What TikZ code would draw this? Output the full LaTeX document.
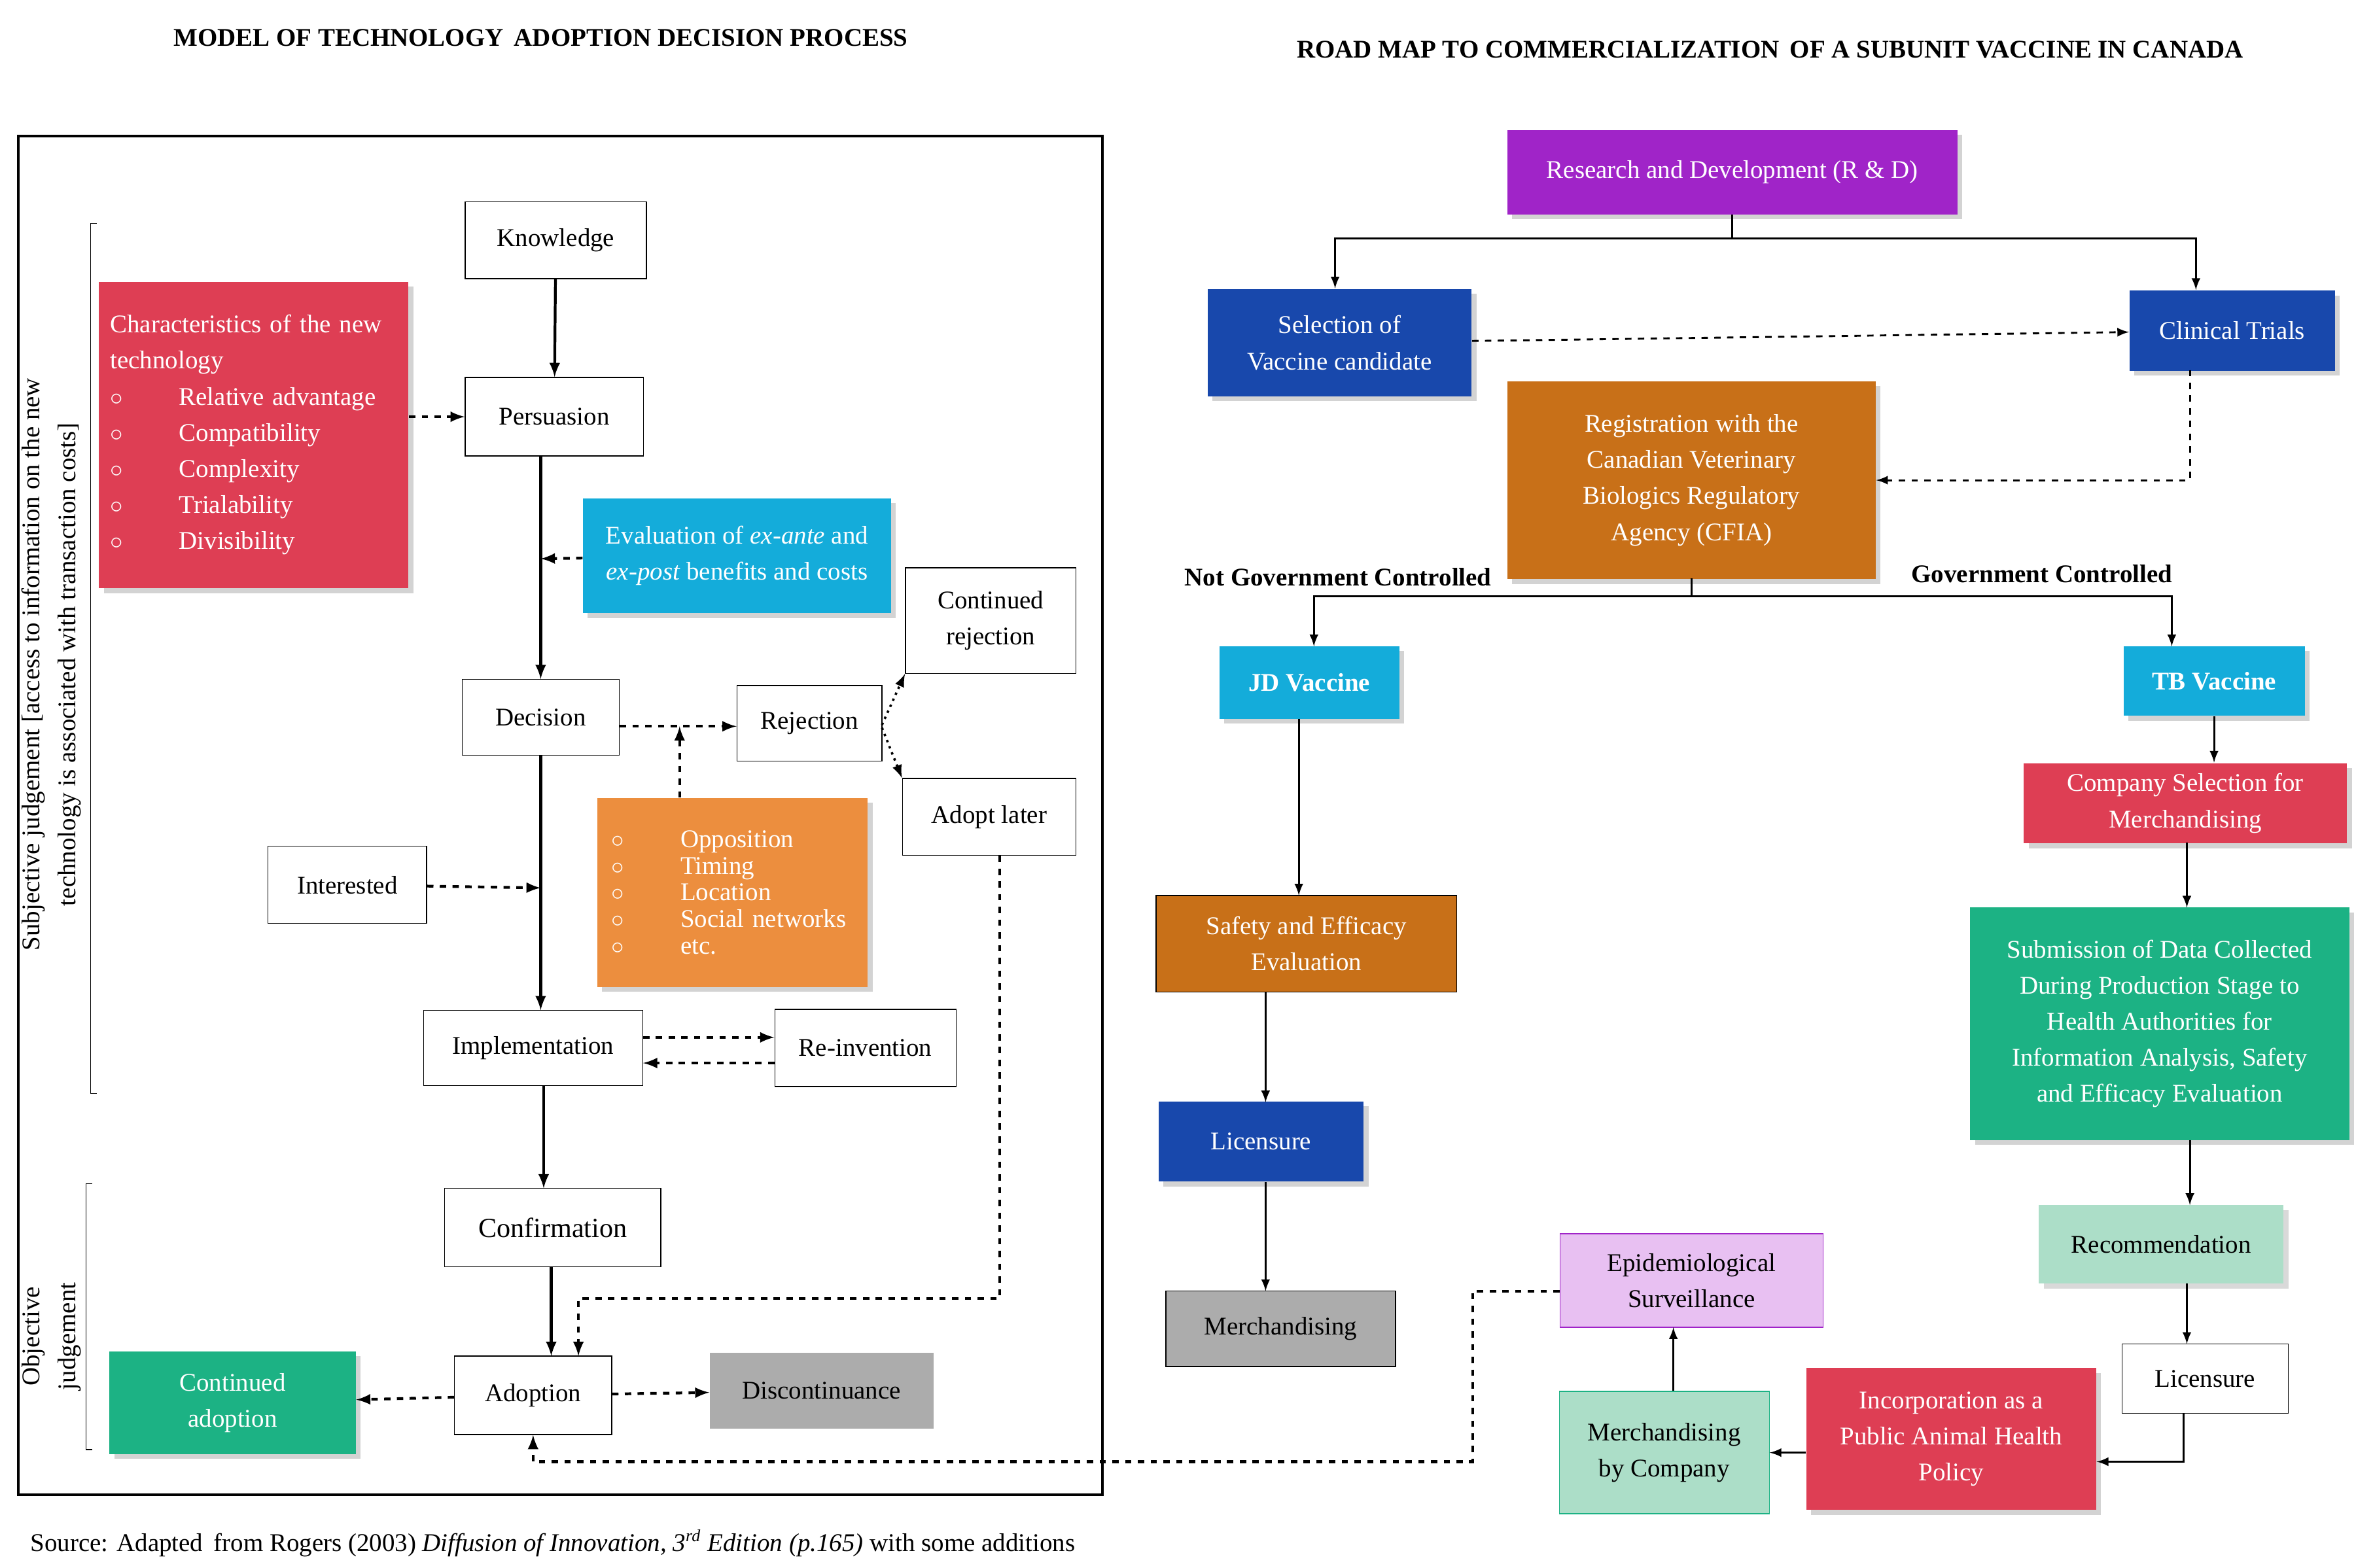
\documentclass[tikz,border=0pt]{standalone}
\usepackage{fontspec}
\setmainfont{Liberation Serif}
\usetikzlibrary{shadows}
\definecolor{cred}{RGB}{222,62,84}
\definecolor{ccyan}{RGB}{20,172,218}
\definecolor{corange}{RGB}{236,142,62}
\definecolor{cpurple}{RGB}{160,36,200}
\definecolor{cblue}{RGB}{24,72,172}
\definecolor{cbrown}{RGB}{200,112,24}
\definecolor{cgreen}{RGB}{28,178,132}
\definecolor{clgreen}{RGB}{172,222,200}
\definecolor{clpurple}{RGB}{232,192,242}
\definecolor{cgray}{RGB}{172,172,172}
\begin{document}
\begin{tikzpicture}[x=0.025cm,y=-0.025cm,>=latex,
  every node/.style={font=\fontsize{12}{17}\selectfont},
  bx/.style 2 args={draw=black,rectangle,align=center,minimum width=#1*0.025cm,minimum height=#2*0.025cm,inner sep=1pt},
  fl/.style={draw=none,drop shadow={opacity=0.35},text=white},
  sl/.style={->,line width=1.3pt},
  dl/.style={->,line width=1.3pt,dashed},
  dt/.style={->,line width=1.1pt,dotted},
  rl/.style={->,line width=0.9pt}]
%%
\useasboundingbox (0,0) rectangle (1560,1038);
\node at (358,25) {\textbf{MODEL OF TECHNOLOGY\, ADOPTION DECISION PROCESS}};
\node at (1172,33) {\textbf{ROAD MAP TO COMMERCIALIZATION\, OF A SUBUNIT VACCINE IN CANADA}};
\draw[line width=1.2pt] (12,90) rectangle (730,990);
% left side
\node (knowledge) at (368,159) [bx={120}{51}] {Knowledge};
\node (persuasion) at (367,276) [bx={118}{52}] {Persuasion};
\node (charac) at (168,288) [bx={205}{203},fl,fill=cred,align=left,text width=190*0.025cm] {Characteristics of the new\\technology\\
  $\circ$\hspace{2.2em}Relative advantage\\ $\circ$\hspace{2.2em}Compatibility\\ $\circ$\hspace{2.2em}Complexity\\
  $\circ$\hspace{2.2em}Trialability\\ $\circ$\hspace{2.2em}Divisibility};
\node (evaluation) at (488,368) [bx={204}{76},fl,fill=ccyan] {Evaluation of \textit{ex-ante} and\\\textit{ex-post} benefits and costs};
\node (cont_rej) at (656,411) [bx={113}{70}] {Continued\\rejection};
\node (decision) at (358,475) [bx={104}{50}] {Decision};
\node (rejection) at (536,479) [bx={96}{50}] {Rejection};
\node (adopt_later) at (655,541) [bx={115}{51}] {Adopt later};
\node (interested) at (230,586) [bx={105}{51}] {Interested};
\node (barriers) at (485,591) [bx={179}{125},fl,fill=corange,align=left,text width=160*0.025cm,font=\fontsize{12}{12.5}\selectfont] {$\circ$\hspace{2.2em}Opposition\\ $\circ$\hspace{2.2em}Timing\\ $\circ$\hspace{2.2em}Location\\
  $\circ$\hspace{2.2em}Social networks\\ $\circ$\hspace{2.2em}etc.};
\node (implementation) at (353,694) [bx={145}{50}] {Implementation};
\node (reinvention) at (573,694) [bx={120}{51}] {Re-invention};
\node (confirmation) at (366,813) [bx={143}{52}] {\fontsize{13}{15}\selectfont Confirmation};
\node (adoption) at (353,924) [bx={104}{52}] {Adoption};
\node (cont_adopt) at (154,929) [bx={163}{68},fl,fill=cgreen] {Continued\\adoption};
\node (discont) at (544,921) [bx={148}{50},draw=none,fill=cgray] {Discontinuance};
\draw (64,148) -- (60,148) -- (60,724) -- (64,724);
\node[rotate=90,align=center] (subj) at (34,440) {Subjective judgement [access to information on the new\\technology is associated with transaction costs]};
\draw (61,784) -- (57,784) -- (57,960) -- (61,960);
\node[rotate=90,align=center] (obj) at (34,885) {Objective\\judgement};
\node at (366,1022) {Source: Adapted\, from Rogers (2003) \textit{Diffusion of Innovation, 3\textsuperscript{rd} Edition (p.165)} with some additions};
% right side
\node (rnd) at (1147,114) [bx={298}{56},fl,fill=cpurple] {Research and Development (R \& D)};
\node (selection) at (887,227) [bx={175}{71},fl,fill=cblue] {Selection of\\Vaccine candidate};
\node (clinical) at (1478,219) [bx={136}{53},fl,fill=cblue] {Clinical Trials};
\node (registration) at (1120,318) [bx={244}{131},fl,fill=cbrown] {Registration with the\\Canadian Veterinary\\Biologics Regulatory\\Agency (CFIA)};
\node (notgov) at (886,382) {\textbf{Not Government Controlled}};
\node (gov) at (1352,380) {\textbf{Government Controlled}};
\node (jd) at (867,452) [bx={119}{48},fl,fill=ccyan] {\textbf{JD Vaccine}};
\node (tb) at (1466,451) [bx={120}{46},fl,fill=ccyan] {\textbf{TB Vaccine}};
\node (company) at (1447,532) [bx={214}{53},fl,fill=cred] {Company Selection for\\Merchandising};
\node (submission) at (1430,678) [bx={251}{154},fl,fill=cgreen] {Submission of Data Collected\\During Production Stage to\\Health Authorities for\\Information Analysis, Safety\\and Efficacy Evaluation};
\node (recommend) at (1431,824) [bx={162}{52},draw=none,fill=clgreen,drop shadow={opacity=0.3}] {Recommendation};
\node (lic_tb) at (1460,913) [bx={110}{46}] {Licensure};
\node (incorp) at (1292,953) [bx={192}{94},fl,fill=cred] {Incorporation as a\\Public Animal Health\\Policy};
\node (merch_co) at (1102,962) [bx={139}{81},draw=cgreen,fill=clgreen] {Merchandising\\by Company};
\node (epi) at (1120,848) [bx={174}{62},draw=cpurple,fill=clpurple] {Epidemiological\\Surveillance};
\node (safety) at (865,625) [bx={199}{64},fill=cbrown,text=white] {Safety and Efficacy\\Evaluation};
\node (lic_jd) at (835,756) [bx={136}{53},fl,fill=cblue] {Licensure};
\node (merch) at (848,880) [bx={152}{50},fill=cgray] {Merchandising};
%
\draw [sl] (knowledge) -- (persuasion);
\draw [sl] (358,302) -- (decision);
\draw [sl] (358,500) -- (358,669);
\draw [sl] (360,719) -- (360,787);
\draw [sl] (365,839) -- (365,898);
\draw [dl] (adopt_later.south -| 662,567) -- (662,860) -- (383,860) -- (383,898);
\draw [dl] (charac.east |- persuasion) -- (persuasion);
\draw [dl] (evaluation) -- (358,370);
\draw [dl] (decision.east |- 0,481) -- (rejection.west |- 0,481);
\draw [dl] (barriers.north -| 450,529) -- (450,481);
\draw [dt] (584,480) -- (cont_rej.south west);
\draw [dt] (584,482) -- (adopt_later.north west);
\draw [dl] (interested) -- (358,588);
\draw [dl] (implementation.east |- 0,687) -- (reinvention.west |- 0,687);
\draw [dl] (reinvention.west |- 0,704) -- (implementation.east |- 0,704);
\draw [dl] (adoption) -- (cont_adopt);
\draw [dl] (adoption) -- (discont);
\draw [rl,-] (rnd.south) -- (1147,158);
\draw [rl] (1147,158) -- (884,158) -- (884,191);
\draw [rl] (1147,158) -- (1454,158) -- (1454,192);
\draw [rl,dashed] (selection) -- (clinical);
\draw [rl,dashed] (1450,245) -- (1450,318) -- (registration.east);
\draw [rl] (1120,383) -- (1120,395) -- (870,395) -- (870,428);
\draw [rl] (1120,395) -- (1438,395) -- (1438,428);
\draw [rl] (860,476) -- (860,593);
\draw [rl] (838,657) -- (838,730);
\draw [rl] (838,783) -- (838,855);
\draw [rl] (tb.south -| 1466,474) -- (1466,505);
\draw [rl] (1448,558) -- (1448,601);
\draw [rl] (1450,755) -- (1450,798);
\draw [rl] (1448,850) -- (1448,890);
\draw [rl] (1446,936) -- (1446,968) -- (incorp.east |- 0,968);
\draw [rl] (incorp.west |- merch_co) -- (merch_co.east);
\draw [rl] (1108,921) -- (1108,879);
\draw [dl] (epi.west |- 0,855) -- (975,855) -- (975,968) -- (353,968) -- (adoption.south);
%
\end{tikzpicture}
\end{document}
